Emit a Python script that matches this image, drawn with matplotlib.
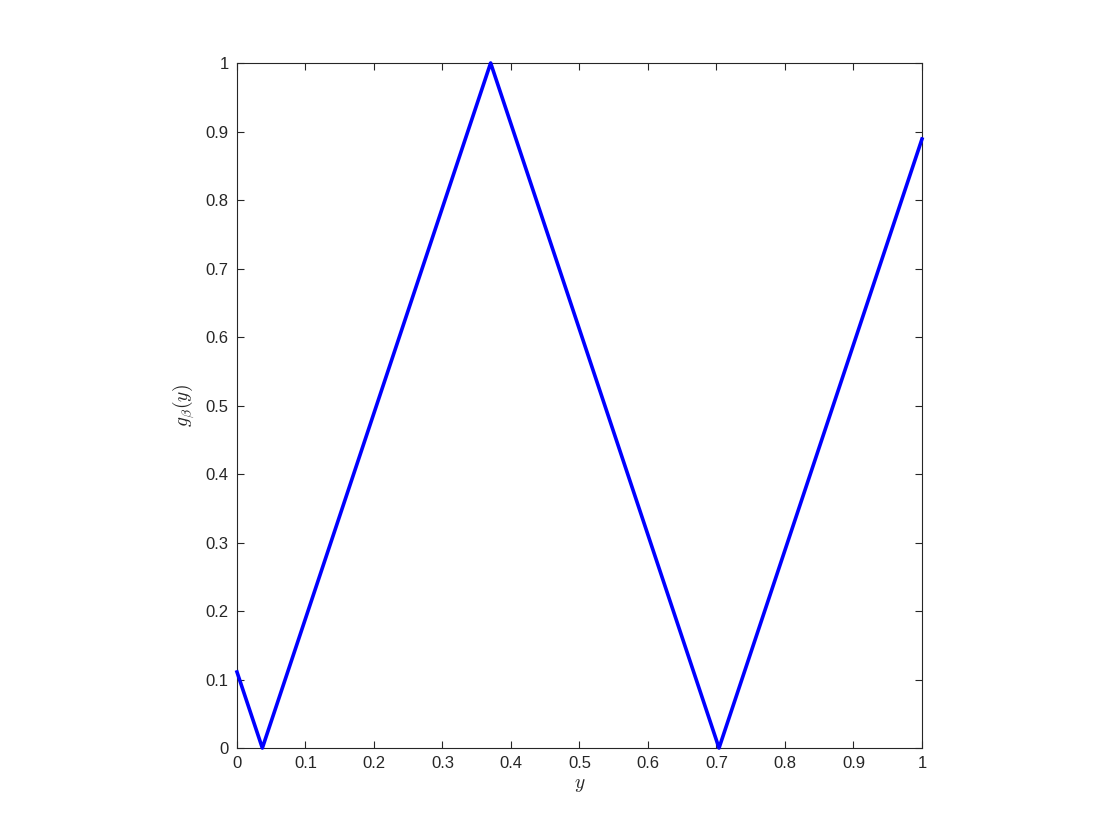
import matplotlib
matplotlib.use('Agg')
import matplotlib.pyplot as plt
import numpy as np

plt.rcParams['font.family'] = ['Liberation Sans', 'DejaVu Sans']
plt.rcParams['mathtext.fontset'] = 'cm'

# breakpoints of the curve
y_pts = [0.0, 0.037, 0.3703, 0.7037, 1.0]
g_pts = [0.111, 0.0, 1.0, 0.0, 0.889]

xticks = np.round(np.arange(0, 1.01, 0.1), 1)
xlabels = ['0'] + ['%.1f' % v for v in xticks[1:-1]] + ['1']

fig = plt.figure(figsize=(11.2, 8.4), dpi=100)
ax = fig.add_axes([0.2116, 0.1095, 0.6116, 0.925 - 0.1095])

ax.plot(y_pts, g_pts, color='#0000ff', linewidth=2.6, clip_on=False, zorder=3)

ax.set_xlim(0, 1)
ax.set_ylim(0, 1)
ax.set_xticks(xticks)
ax.set_xticklabels(xlabels)
ax.set_yticks(xticks)
ax.set_yticklabels(xlabels)

ax.tick_params(direction='in', top=True, right=True, length=5, width=0.8,
               labelsize=12, colors='#262626', pad=6)
for s in ax.spines.values():
    s.set_color('#262626')
    s.set_linewidth(0.8)

ax.set_xlabel('$y$', fontsize=14, color='#262626', labelpad=4)
ax.set_ylabel(r'$g_\beta(y)$', fontsize=14, color='#262626', labelpad=6)

fig.savefig('out.png', dpi=100)
